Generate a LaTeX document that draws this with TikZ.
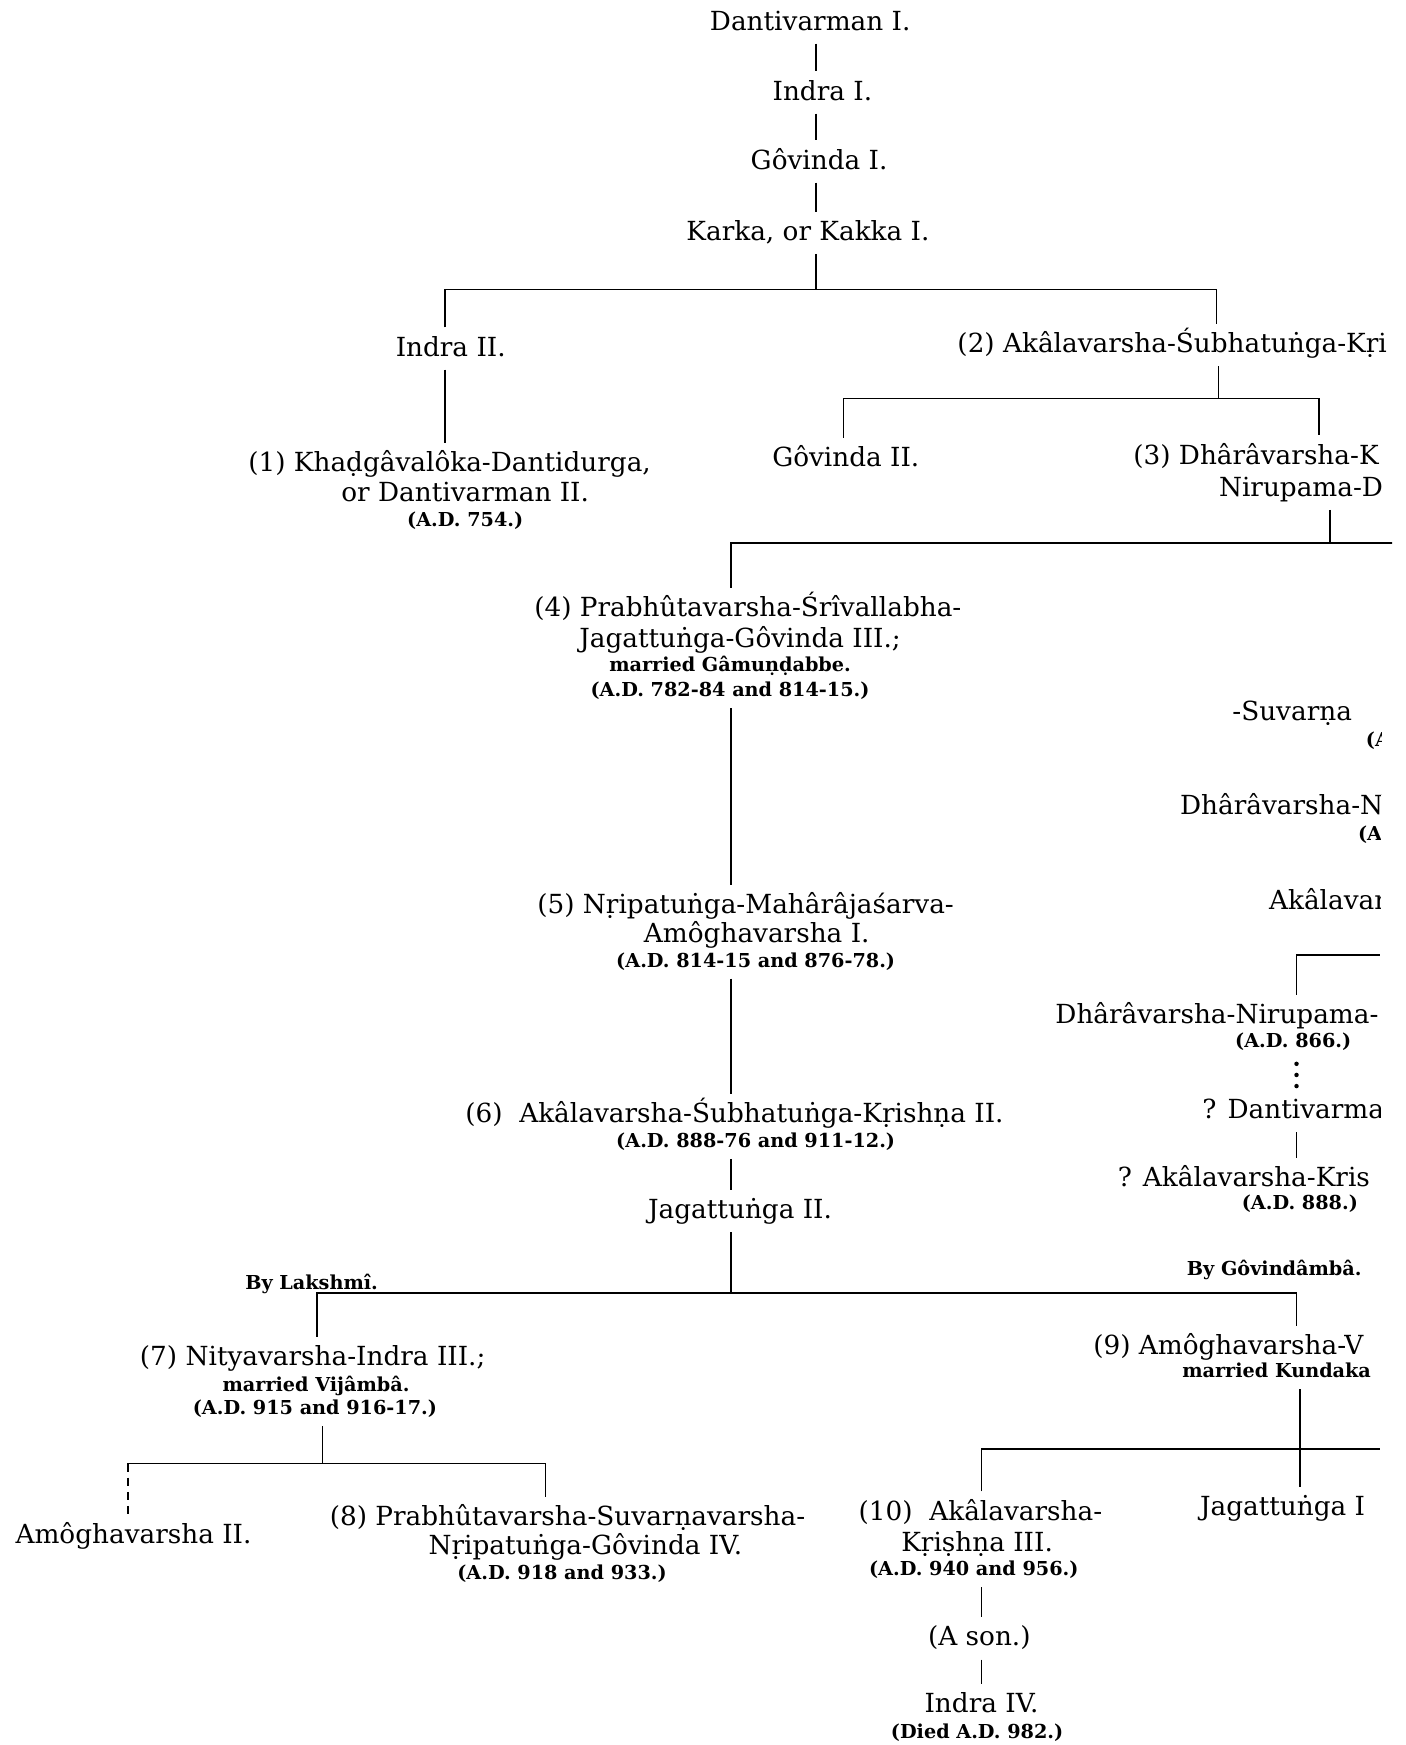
\documentclass[tikz,border=0pt]{standalone}
\usepackage{fontspec}
\setmainfont{DejaVu Serif}
\begin{document}
\begin{tikzpicture}[x=0.55pt,y=-0.55pt,
  kin/.style={font=\fontsize{13}{15}\selectfont,inner sep=0pt,text height=11pt,text depth=3.5pt,anchor=base},
  memo/.style={font=\bfseries\fontsize{9.5}{11}\selectfont,inner sep=0pt,text height=8pt,text depth=2.5pt,anchor=base},
  tie/.style={line width=0.75pt},
  gap/.style={shorten <=3pt,shorten >=3pt}]
\useasboundingbox (0,0) rectangle (1263,1568);
\begin{scope}
\clip (0,0) -- (1251,0) -- (1251,500) -- (1241,620) -- (1240,1568) -- (0,1568) -- cycle;
% bus lines
\coordinate (busA) at (733,260); \coordinate (busAl) at (400,260); \coordinate (busAr) at (1093,260);
\coordinate (busB) at (1095,358); \coordinate (busBl) at (758,358); \coordinate (busBr) at (1185,358);
\coordinate (busC) at (1195,488); \coordinate (busCl) at (657,488); \coordinate (busCr) at (1260,488);
\coordinate (busD) at (657,1162); \coordinate (busDl) at (285,1162); \coordinate (busDr) at (1165,1162);
\coordinate (busE) at (290,1315); \coordinate (busEl) at (115,1315); \coordinate (busEr) at (490,1315);
\coordinate (busF) at (1168,1302); \coordinate (busFl) at (882,1302); \coordinate (busFr) at (1240,1302);
\coordinate (busG) at (1165,858); \coordinate (busGr) at (1240,858);
% first generations
\node[kin] (dant) at (728,27) {Dantivarman I.};
\node[kin] (indra1) at (739,90) {Indra I.};
\node[kin] (govinda1) at (736,152) {Gôvinda I.};
\node[kin] (karka) at (726,216) {Karka, or Kakka I.};
\node[kin] (indra2) at (405,320) {Indra II.};
\node[kin,anchor=base west] (akala2) at (860,317) {(2) Akâlavarsha-Śubhatuṅga-Kṛi};
\node[kin] (khadga) at (404,424) {(1) Khaḍgâvalôka-Dantidurga,};
\node[kin] (khadgab) at (418,451) {or Dantivarman II.};
\node[memo] (khadgac) at (418,473) {(A.D. 754.)};
\node[kin] (govinda2) at (760,419) {Gôvinda II.};
\node[kin,anchor=base west] (dhara3) at (1018,417) {(3) Dhârâvarsha-K};
\node[kin,anchor=base west] (dhara3b) at (1095,446) {Nirupama-D};
% main line
\node[kin] (n4a) at (672,554) {(4) Prabhûtavarsha-Śrîvallabha-};
\node[kin] (n4b) at (665,582) {Jagattuṅga-Gôvinda III.;};
\node[memo] (n4c) at (656,603) {married Gâmuṇḍabbe.};
\node[memo] (n4d) at (656,626) {(A.D. 782-84 and 814-15.)};
\node[kin] (n5a) at (670,821) {(5) Nṛipatuṅga-Mahârâjaśarva-};
\node[kin] (n5b) at (680,847) {Amôghavarsha I.};
\node[memo] (n5c) at (679,869) {(A.D. 814-15 and 876-78.)};
\node[kin] (n6a) at (660,1009) {(6)\ \ Akâlavarsha-Śubhatuṅga-Kṛishṇa II.};
\node[memo] (n6b) at (679,1031) {(A.D. 888-76 and 911-12.)};
\node[kin] (jag2) at (665,1095) {Jagattuṅga II.};
\node[memo] (lakshmi) at (280,1159) {By Lakshmî.};
\node[memo] (govindamba) at (1145,1146) {By Gôvindâmbâ.};
\node[kin] (n7a) at (281,1227) {(7) Nityavarsha-Indra III.;};
\node[memo] (n7b) at (284,1250) {married Vijâmbâ.};
\node[memo] (n7c) at (283,1271) {(A.D. 915 and 916-17.)};
\node[kin] (amogha2) at (120,1387) {Amôghavarsha II.};
\node[kin] (n8a) at (510,1371) {(8) Prabhûtavarsha-Suvarṇavarsha-};
\node[kin] (n8b) at (526,1397) {Nṛipatuṅga-Gôvinda IV.};
\node[memo] (n8c) at (505,1419) {(A.D. 918 and 933.)};
\node[kin,anchor=base west] (n9a) at (982,1217) {(9) Amôghavarsha-V};
\node[memo,anchor=base west] (n9b) at (1062,1238) {married Kundaka};
\node[kin] (n10a) at (881,1366) {(10)\ \ Akâlavarsha-};
\node[kin] (n10b) at (878,1394) {Kṛiṣhṇa III.};
\node[memo] (n10c) at (875,1416) {(A.D. 940 and 956.)};
\node[kin] (ason) at (880,1479) {(A son.)};
\node[kin] (indra4) at (882,1539) {Indra IV.};
\node[memo] (indra4b) at (878,1562) {(Died A.D. 982.)};
\node[kin,anchor=base west] (jag1) at (1078,1362) {Jagattuṅga I};
% right column
\node[kin,anchor=base west] (suv) at (1107,647) {-Suvarṇa};
\node[memo,anchor=base west] (suvb) at (1227,671) {(A};
\node[kin,anchor=base west] (dharaN) at (1060,732) {Dhârâvarsha-N};
\node[memo,anchor=base west] (dharaNb) at (1220,755) {(A};
\node[kin,anchor=base west] (akalav) at (1140,817) {Akâlavar};
\node[kin,anchor=base west] (dharaNir) at (948,920) {Dhârâvarsha-Nirupama-};
\node[memo] (dharaNirb) at (1162,941) {(A.D. 866.)};
\node[kin,anchor=base west] (danti) at (1080,1005) {? Dantivarma};
\node[kin,anchor=base west] (akalK) at (1004,1066) {? Akâlavarsha-Kris};
\node[memo] (akalKb) at (1168,1087) {(A.D. 888.)};
% connectors
\draw[tie,gap] (dant.south -| busA) -- (indra1.north -| busA);
\draw[tie,gap] (indra1.south -| busA) -- (govinda1.north -| busA);
\draw[tie,gap] (govinda1.south -| busA) -- (karka.north -| busA);
\draw[tie,shorten <=3pt] (karka.south -| busA) -- (busA);
\draw[tie,gap] (indra2.north -| busAl) -- (busAl) -- (busAr) -- (akala2.north -| busAr);
\draw[tie,gap] (indra2.south -| busAl) -- (khadga.north -| busAl);
\draw[tie,shorten <=3pt] (akala2.south -| busB) -- (busB);
\draw[tie,gap] (govinda2.north -| busBl) -- (busBl) -- (busBr) -- (dhara3.north -| busBr);
\draw[tie,shorten <=3pt] (dhara3b.south -| busC) -- (busC);
\draw[tie,shorten >=3pt] (busCr) -- (busCl) -- (n4a.north -| busCl);
\draw[tie,gap] (n4d.south -| busCl) -- (n5a.north -| busCl);
\draw[tie,gap] (n5c.south -| busCl) -- (n6a.north -| busCl);
\draw[tie,gap] (n6b.south -| busCl) -- (jag2.north -| busCl);
\draw[tie,shorten <=3pt] (jag2.south -| busD) -- (busD);
\draw[tie,gap] (n7a.north -| busDl) -- (busDl) -- (busDr) -- (n9a.north -| busDr);
\draw[tie,shorten <=3pt] (n7c.south -| busE) -- (busE);
\draw[tie,shorten >=3pt] (busEl) -- (busEr) -- (n8a.north -| busEr);
\draw[tie,shorten >=3pt,dash pattern=on 4pt off 3pt] (busEl) -- (amogha2.north -| busEl);
\draw[tie,shorten <=3pt] (n9b.south -| busF) -- (busF);
\draw[tie,shorten <=3pt] (n10a.north -| busFl) -- (busFl) -- (busFr);
\draw[tie,shorten >=3pt] (busF) -- (jag1.north -| busF);
\draw[tie,gap] (n10c.south -| busFl) -- (ason.north -| busFl);
\draw[tie,gap] (ason.south -| busFl) -- (indra4.north -| busFl);
\draw[tie,shorten >=3pt] (busGr) -- (busG) -- (dharaNir.north -| busG);
\draw[line width=2.2pt,line cap=round,dash pattern=on 0pt off 5.5pt,shorten <=5.5pt,shorten >=4pt] (dharaNirb.south -| busG) -- (danti.north -| busG);
\draw[tie,gap] (danti.south -| busG) -- (akalK.north -| busG);
\end{scope}
\end{tikzpicture}
\end{document}
